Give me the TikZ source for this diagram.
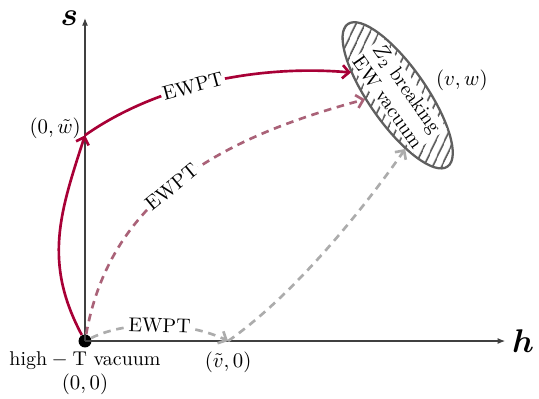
\documentclass[tikz,border=0pt]{standalone}
\usepackage{amsmath,amssymb}
\usepackage{xcolor}
\usepackage{tikz}
\usetikzlibrary{arrows.meta,shapes.geometric,patterns.meta,positioning}

\definecolor{ewred}{RGB}{168,0,54}
\definecolor{ewmauve}{RGB}{170,98,120}
\definecolor{ewgray}{RGB}{172,172,172}
\definecolor{ewdark}{RGB}{95,95,95}

\tikzset{
    axis/.style={draw=black!75, line width=0.6pt, -{Latex[length=4pt,width=3.2pt]}},
    path/.style={line width=1.4pt, -{Straight Barb[length=3.5pt,width=7pt]}},
    dpath/.style={path, dash pattern=on 4pt off 3pt},
    ewpt/.style={fill=white, text=black, inner sep=1pt, sloped},
    dot/.style={circle, fill=black, inner sep=0pt, minimum size=6.8pt}
}

\begin{document}
\begin{tikzpicture}[font=\fontsize{10.5pt}{12.4pt}\selectfont]
        \useasboundingbox (-1.574,-1.056) rectangle (8.407,6.315);

        \node[dot] (p0) at (0,0) {};
        \coordinate (wt) at (0,3.81);
        \coordinate (vt) at (2.65,0);

        \draw[axis] (p0.center) -- (7.78,0) node[right] (hl) {\LARGE $\boldsymbol{h}$};
        \draw[axis] (p0.center) -- (0,5.98) node[left] (sl) {\LARGE $\boldsymbol{s}$};

        \node[ellipse, draw=ewdark, line width=1.2pt, minimum width=3.22cm, minimum height=1.06cm,
              rotate=-55, pattern={Lines[angle=65,distance=4pt,line width=0.9pt]},
              pattern color=ewdark] (vac) at (5.79,4.55) {};
        \node[rotate=-55, fill=white, inner sep=1pt, align=center] (vaclab) at (vac.center)
              {$Z_2$ breaking\\EW vacuum};
        \node (vwl) at (6.98,4.83) {$(v,w)$};

        \draw[path, ewred] (p0) to[out=118, in=-108, looseness=1.05] (wt);
        \draw[path, ewred] (wt) to[out=35, in=175, looseness=0.85] node[ewpt, pos=0.43] {EWPT} (vac.209);

        \draw[dpath, ewmauve] (p0) to[out=80, in=195, looseness=1.0] node[ewpt, pos=0.46] {EWPT} (vac.242);

        \draw[dpath, ewgray] (p0) to[out=26, in=154, looseness=0.8] node[ewpt, pos=0.5] {EWPT} (vt);
        \draw[dpath, ewgray] (vt) to[out=35, in=-125, looseness=0.77] (vac.333);

        \node[left, inner sep=2pt, yshift=3.5pt] (wtl) at (wt) {$(0,\tilde{w})$};
        \node[below=2pt] (vtl) at (vt) {$(\tilde{v},0)$};
        \node[below=1pt of p0, align=center, inner sep=1pt] (p0l) {$\text{high}-\text{T vacuum}$\\$(0,0)$};
\end{tikzpicture}
\end{document}
